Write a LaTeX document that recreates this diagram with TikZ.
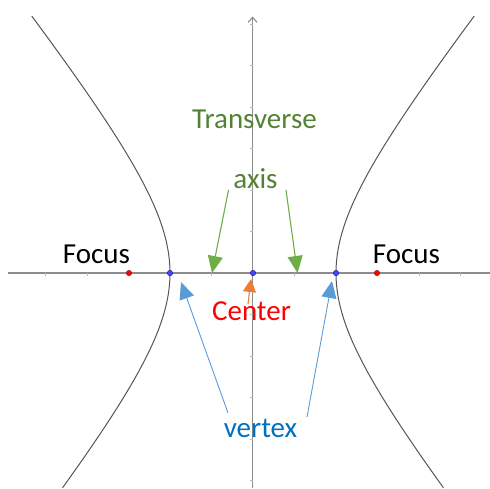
\documentclass[tikz,border=0pt]{standalone}
\usepackage{fontspec}
\setmainfont{Carlito}
\usetikzlibrary{arrows.meta}
\definecolor{axgray}{RGB}{140,140,140}
\definecolor{tickgray}{RGB}{185,185,185}
\definecolor{curvegray}{RGB}{85,85,85}
\definecolor{grnarrow}{RGB}{112,173,71}
\definecolor{grntext}{RGB}{84,130,53}
\definecolor{bluearrow}{RGB}{91,155,213}
\definecolor{bluetext}{RGB}{0,112,192}
\definecolor{orng}{RGB}{237,125,49}
\definecolor{ptblue}{RGB}{70,70,255}
\tikzset{
  lbl/.style={anchor=base, inner sep=0pt, font=\fontsize{29}{35}\selectfont},
  axisline/.style={draw=axgray, line width=1.1pt},
  tickmark/.style={draw=tickgray, line width=0.6pt},
  hyp/.style={draw=curvegray, line width=1pt},
  callout/.style={line width=1.1pt, -{Triangle[length=17pt,width=15pt]}},
  fpoint/.style={circle, fill=red, draw=red!60!black, line width=0.3pt, inner sep=0pt, minimum size=5.5pt},
  vpoint/.style={circle, fill=ptblue, draw=blue!50!black, line width=0.3pt, inner sep=0pt, minimum size=5.5pt}
}
\begin{document}
\begin{tikzpicture}[x=1pt,y=-1pt]
\useasboundingbox (0,0) rectangle (490,488);
% axes
\coordinate (xl) at (8,273);
\coordinate (xr) at (490,273);
\coordinate (yt) at (252.5,16.5);
\coordinate (yb) at (252.5,488);
\draw[axisline] (xl) -- (xr);
\draw[axisline, -{Straight Barb[length=5pt,width=9pt]}] (yb) -- (yt);
\foreach \k in {-5,...,5} {
  \draw[tickmark] ({253+41.5*\k},273) -- ({253+41.5*\k},275.5);
}
\foreach \k in {-6,...,5} {
  \draw[tickmark] (250,{273+41.5*\k}) -- (252.5,{273+41.5*\k});
}
% hyperbola
\draw[hyp] plot[domain=-1.636:1.473, samples=120, smooth] ({253-83*cosh(\x)},{273+104*sinh(\x)});
\draw[hyp] plot[domain=-1.636:1.473, samples=120, smooth] ({253+83*cosh(\x)},{273+104*sinh(\x)});
% points
\node[fpoint] (f1) at (129,273) {};
\node[fpoint] (f2) at (377,273) {};
\node[vpoint] (v1) at (170,273) {};
\node[vpoint] (v2) at (336,273) {};
\node[vpoint] (c0) at (253,273) {};
% labels
\node[lbl, text=grntext] (trans) at (254.5,128) {Transverse};
\node[lbl, text=grntext] (axislbl) at (255.5,188) {axis};
\node[lbl, text=black] (focL) at (96.5,263) {Focus};
\node[lbl, text=black] (focR) at (406.5,263) {Focus};
\node[lbl, text=red] (cent) at (251.5,320) {Center};
\node[lbl, text=bluetext] (vert) at (260.5,437) {vertex};
% arrow ends
\coordinate (ga1) at (228.5,190);
\coordinate (gt1) at (212,273);
\coordinate (ga2) at (286,190);
\coordinate (gt2) at (297.5,273);
\coordinate (oa) at (248,304);
\coordinate (ot) at (251,279);
\coordinate (ba1) at (228,413);
\coordinate (bt1) at (181,282);
\coordinate (ba2) at (307,417);
\coordinate (bt2) at (332,281);
\draw[callout, grnarrow] (ga1) -- (gt1);
\draw[callout, grnarrow] (ga2) -- (gt2);
\draw[callout, orng, -{Triangle[length=13pt,width=13pt]}] (oa) -- (ot);
\draw[callout, bluearrow, line width=0.9pt] (ba1) -- (bt1);
\draw[callout, bluearrow, line width=0.9pt] (ba2) -- (bt2);
\end{tikzpicture}
\end{document}
